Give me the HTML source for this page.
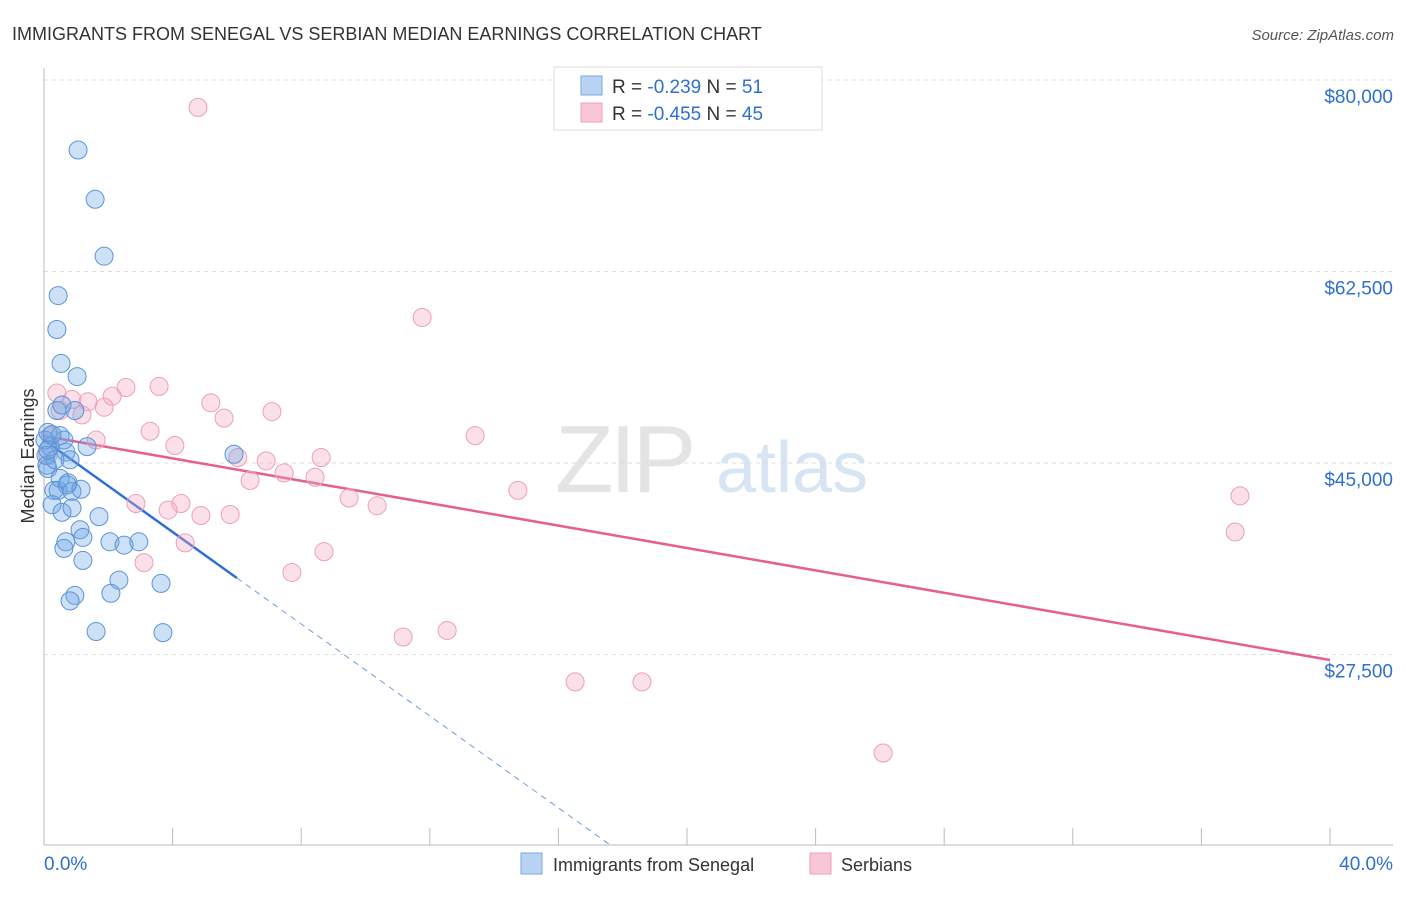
<!DOCTYPE html>
<html><head><meta charset="utf-8"><style>
body{margin:0;background:#fff;font-family:"Liberation Sans",sans-serif;}
svg text{font-family:"Liberation Sans",sans-serif;}
</style></head><body>
<svg id="chart" width="1406" height="892" viewBox="0 0 1406 892" xmlns="http://www.w3.org/2000/svg">
<text x="12" y="40" font-size="18" fill="#333">IMMIGRANTS FROM SENEGAL VS SERBIAN MEDIAN EARNINGS CORRELATION CHART</text>
<text x="1394" y="40" font-size="15" fill="#555" text-anchor="end" font-style="italic">Source: ZipAtlas.com</text>
<g>
<text x="555" y="492" font-size="96" fill="#e4e4e4" font-family="Liberation Serif" letter-spacing="-4">ZIP</text>
<text x="716" y="492" font-size="72" fill="#d7e4f3">atlas</text>
</g>
<g id="grid"></g>
<g id="axes"></g>
<g id="trend"></g>
<g id="pts"></g>
<text transform="translate(34,456) rotate(-90)" font-size="18" fill="#333" text-anchor="middle">Median Earnings</text>
<g>
<rect x="554" y="67" width="268" height="63" fill="#fff" stroke="#ddd"/>
<rect x="581" y="76" width="21" height="19" fill="#b9d3f3" stroke="#7aa7e0"/>
<rect x="581" y="103" width="21" height="19" fill="#f8c6d6" stroke="#eea0ba"/>
<text x="612" y="93" font-size="19" fill="#333">R = <tspan fill="#2f6fd0">-0.239</tspan>   N = <tspan fill="#2f6fd0"> 51</tspan></text>
<text x="612" y="120" font-size="19" fill="#333">R = <tspan fill="#2f6fd0">-0.455</tspan>   N = <tspan fill="#2f6fd0">45</tspan></text>
</g>
<g>
<rect x="521" y="853" width="21" height="21" fill="#b9d3f3" stroke="#7aa7e0"/>
<text x="553" y="871" font-size="18" fill="#333">Immigrants from Senegal</text>
<rect x="810" y="853" width="21" height="21" fill="#f8c6d6" stroke="#eea0ba"/>
<text x="841" y="871" font-size="18" fill="#333">Serbians</text>
</g>
</svg>
<script>
const yTicks=[80000,62500,45000,27500];
const yTickLabels=["$80,000","$62,500","$45,000","$27,500"];
const xTickVals=[0,4,8,12,16,20,24,28,32,36,40];
const xEndLabels=["0.0%","40.0%"];
const blueX=[1.06,1.59,1.87,0.44,0.40,0.53,1.03,0.40,0.96,0.56,0.12,0.50,1.34,0.19,0.68,0.81,5.91,0.12,0.31,0.44,0.75,0.87,1.15,0.25,0.56,0.87,1.71,1.12,1.21,0.68,0.62,2.05,2.49,2.95,1.21,2.33,3.64,2.08,0.96,0.81,1.62,3.70,0.03,0.06,0.09,0.34,0.50,0.72,0.62,0.25,0.12];
const blueY=[73600,69100,63900,60300,57200,54100,52900,49800,49800,50300,47800,47500,46500,46500,46000,45300,45800,44500,42500,42500,43200,42400,42600,41200,40500,40900,40100,38900,38200,37800,37200,37800,37500,37800,36100,34300,34000,33100,32900,32400,29600,29500,47100,45700,44800,45300,43600,43000,47100,47600,46200];
const pinkX=[4.79,11.76,0.40,2.55,3.58,0.87,1.37,2.12,1.87,1.18,5.19,5.60,7.09,3.30,1.62,4.07,13.41,6.03,6.91,8.62,6.41,7.47,8.43,9.49,10.36,14.74,2.86,4.26,3.86,4.88,5.79,4.39,3.11,8.71,7.71,11.17,12.54,16.52,18.60,26.10,37.20,37.05,0.19,0.50,0.12];
const pinkY=[77500,58300,51400,51900,52000,50800,50600,51100,50100,49400,50500,49100,49700,47900,47100,46600,47500,45500,45200,45500,43400,44100,43700,41800,41100,42500,41300,41300,40700,40200,40300,37700,35900,36900,35000,29100,29700,25000,25000,18500,42000,38700,47500,49800,45700];
const blueTrend=[47100,-2101];
const pinkTrend=[47470,-511.8];
const blueSolidEnd=6.0;

const NS="http://www.w3.org/2000/svg";
const X=p=>44+p*32.15;
const Y=v=>80+(80000-v)/91.38;
function mk(tag,attrs,parent){const e=document.createElementNS(NS,tag);for(const k in attrs)e.setAttribute(k,attrs[k]);parent.appendChild(e);return e;}
const grid=document.getElementById('grid'),axes=document.getElementById('axes'),trend=document.getElementById('trend'),pts=document.getElementById('pts');
yTicks.forEach((v,i)=>{
 const l=mk('line',{x1:44,x2:1393,y1:Y(v),y2:Y(v),stroke:'#ddd','stroke-dasharray':'4,4'},grid);
 
 
 const t=mk('text',{x:1393,y:Y(v)+23,'font-size':19,fill:'#2f6fd0','text-anchor':'end'},grid);
 t.textContent=yTickLabels[i];
 
 
});
const la=mk('line',{x1:44,x2:44,y1:68,y2:845,stroke:'#bbb'},axes);


const ba=mk('line',{x1:44,x2:1393,y1:845,y2:845,stroke:'#bbb'},axes);


xTickVals.forEach(v=>{
 const t=mk('line',{x1:X(v),x2:X(v),y1:828,y2:845,stroke:'#bbb'},axes);
 
 
});
const xl0=mk('text',{x:44,y:870,'font-size':19,fill:'#2f6fd0'},axes);xl0.textContent=xEndLabels[0];


const xl1=mk('text',{x:1393,y:870,'font-size':19,fill:'#2f6fd0','text-anchor':'end'},axes);xl1.textContent=xEndLabels[1];



function drawPts(xs,ys,fill,stroke,name){
 xs.forEach((x,i)=>{
  const c=mk('circle',{cx:X(x),cy:Y(ys[i]),r:9,fill:fill,stroke:stroke,'stroke-width':1},pts);
  
  
 });
}
drawPts(pinkX,pinkY,'rgba(244,166,192,0.35)','#eaa0ba','serbians-point');
drawPts(blueX,blueY,'rgba(110,165,230,0.35)','#5a93d8','senegal-point');

const bv=p=>blueTrend[0]+blueTrend[1]*p;
const pv=p=>pinkTrend[0]+pinkTrend[1]*p;
const pl=mk('line',{x1:X(0),y1:Y(pv(0)),x2:X(40),y2:Y(pv(40)),stroke:'#e5608e','stroke-width':2.5},trend);


const bl=mk('line',{x1:X(0),y1:Y(bv(0)),x2:X(blueSolidEnd),y2:Y(bv(blueSolidEnd)),stroke:'#2c6fd6','stroke-width':2.5},trend);


const pEnd=(10000-blueTrend[0])/blueTrend[1];
const bd=mk('line',{x1:X(blueSolidEnd),y1:Y(bv(blueSolidEnd)),x2:X(pEnd),y2:Y(bv(pEnd)),stroke:'#6d9be0','stroke-width':1,'stroke-dasharray':'6,5'},trend);


</script>
</body></html>
